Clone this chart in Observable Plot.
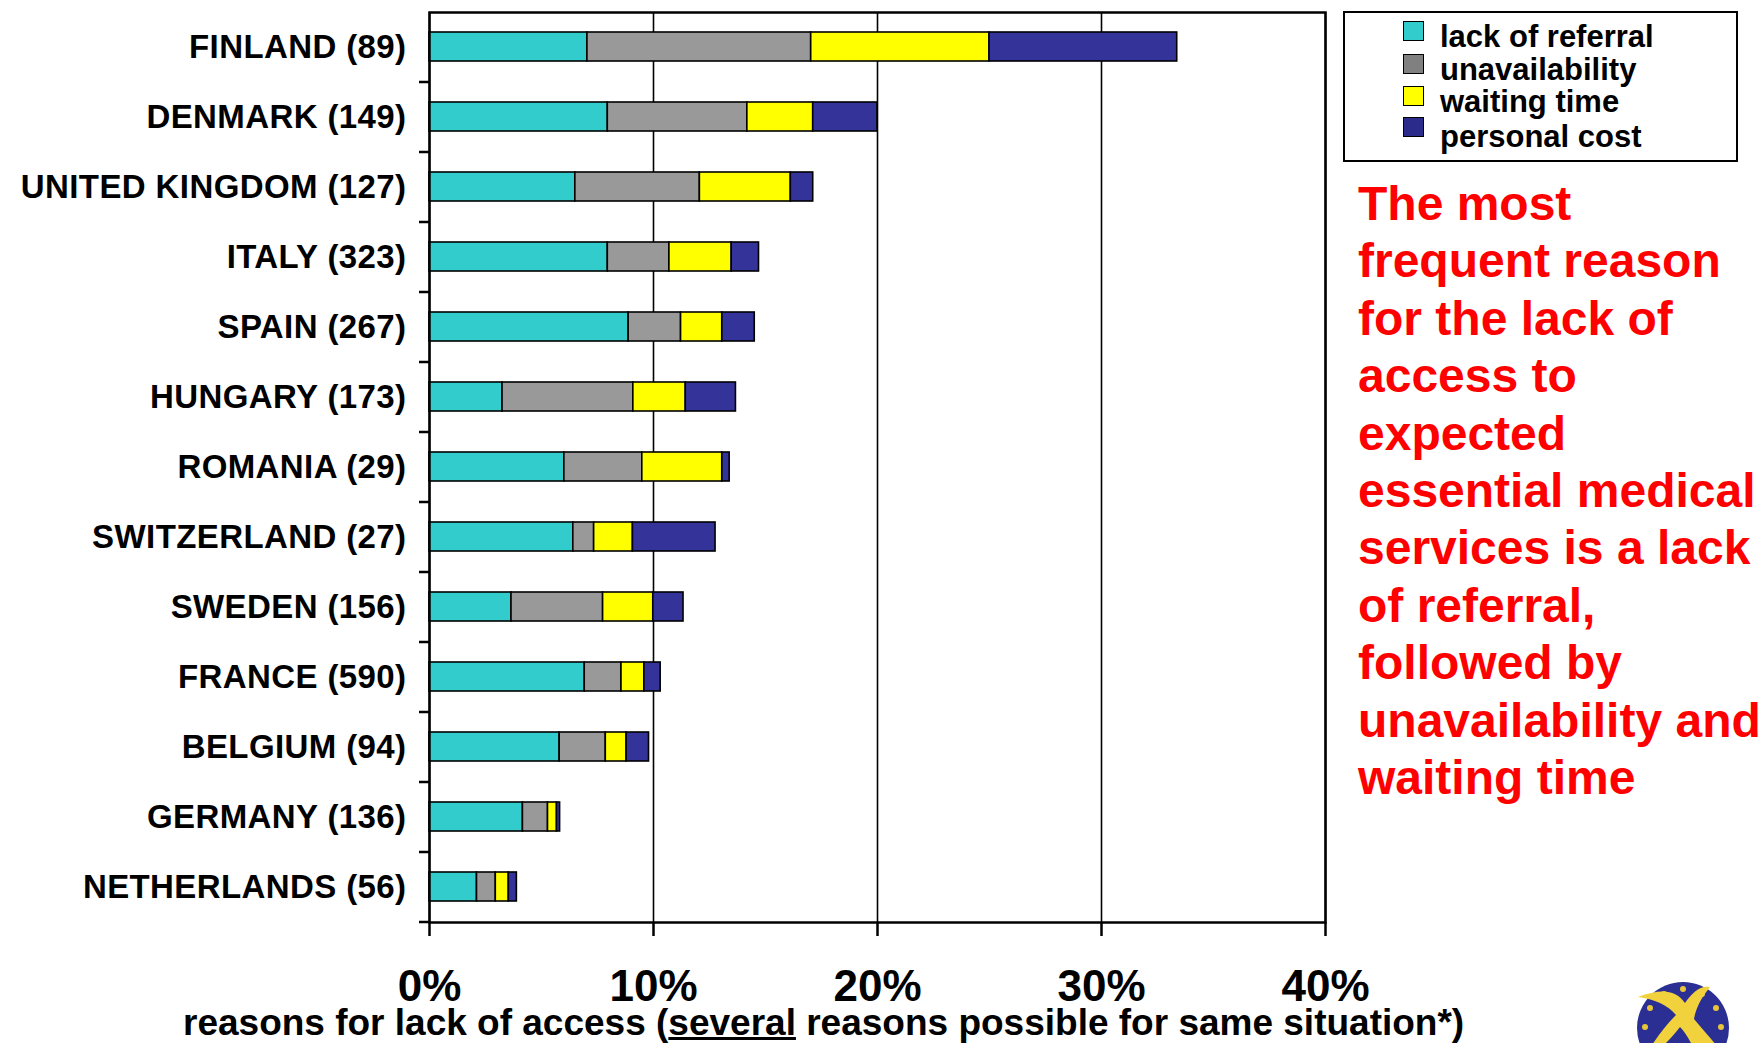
<!DOCTYPE html>
<html>
<head>
<meta charset="utf-8">
<script src="https://cdn.jsdelivr.net/npm/d3@7"></script>
<script src="https://cdn.jsdelivr.net/npm/@observablehq/plot@0.6"></script>
<style>
  html, body { margin: 0; padding: 0; background: #fff; }
  #wrap { position: relative; width: 1761px; height: 1043px; overflow: hidden; font-family: "Liberation Sans", Arial, sans-serif; font-weight: bold; }
  #chart { position: absolute; left: 0; top: 0; }
  #legend { position: absolute; left: 1343px; top: 11px; width: 391px; height: 147px; border: 2px solid #000; background: #fff; }
  .sw { position: absolute; left: 58px; width: 19px; height: 18px; border: 1.5px solid #000; }
  .lab { position: absolute; left: 95px; font-size: 31px; line-height: 31px; white-space: nowrap; color: #000; }
  #note { position: absolute; left: 1358px; top: 175px; font-size: 48px; line-height: 57.4px; color: #ff0000; white-space: nowrap; }
  #xtitle { position: absolute; left: 183px; top: 1004px; font-size: 37px; line-height: 37px; white-space: nowrap; color: #000; }
  #logo { position: absolute; left: 1630px; top: 975px; }
  #chart svg g[aria-label="y-axis tick label"] text { letter-spacing: 0.4px; }
</style>
</head>
<body>
<div id="wrap">
  <div id="chart"></div>
  <div id="legend"></div>
  <div id="note"></div>
  <div id="xtitle"></div>
  <svg id="logo" width="110" height="70" viewBox="0 0 110 70">
    <circle cx="53" cy="53" r="46" fill="#2b2f93"/>
    <g fill="#e8c43a">
      <circle cx="53" cy="14" r="3"/><circle cx="72" cy="19" r="3"/><circle cx="86" cy="33" r="3"/>
      <circle cx="91" cy="52" r="3"/><circle cx="34" cy="19" r="3"/><circle cx="20" cy="33" r="3"/>
      <circle cx="15" cy="52" r="3"/>
    </g>
    <path d="M8 22 C30 14 45 14 55 28 C62 18 70 10 80 12 C72 22 66 32 64 44 C72 54 80 62 86 70 L62 70 C58 62 54 56 50 52 C44 60 38 66 34 70 L22 70 C30 58 38 48 46 40 C38 30 24 24 8 22 Z" fill="#f2d23c"/>
  </svg>
</div>
<script>
// ---- data ----
const countries = [
  "FINLAND (89)", "DENMARK (149)", "UNITED KINGDOM (127)", "ITALY (323)",
  "SPAIN (267)", "HUNGARY (173)", "ROMANIA (29)", "SWITZERLAND (27)",
  "SWEDEN (156)", "FRANCE (590)", "BELGIUM (94)", "GERMANY (136)", "NETHERLANDS (56)"
];
const reasons = ["lack of referral", "unavailability", "waiting time", "personal cost"];
const lackOfReferral = [7.05, 7.96, 6.51, 7.96, 8.89, 3.26, 6.02, 6.42, 3.66, 6.93, 5.81, 4.17, 2.12];
const unavailability = [9.99, 6.23, 5.56, 2.75, 2.34, 5.84, 3.48, 0.93, 4.09, 1.64, 2.06, 1.12, 0.84];
const waitingTime    = [7.96, 2.94, 4.06, 2.78, 1.84, 2.34, 3.57, 1.73, 2.24, 1.02, 0.93, 0.40, 0.58];
const personalCost   = [8.38, 2.87, 1.00, 1.22, 1.45, 2.24, 0.33, 3.69, 1.35, 0.73, 1.00, 0.14, 0.36];
const xTicks = [0, 10, 20, 30, 40];
const colors = ["#33cccc", "#999999", "#ffff00", "#333399"];
const legendColors = ["#33cccc", "#808080", "#ffff00", "#2b2b8c"];
const noteLines = [
  "The most", "frequent reason", "for the lack of", "access to", "expected",
  "essential medical", "services is a lack", "of referral,", "followed by",
  "unavailability and", "waiting time"
];
const xTitleBefore = "reasons for lack of access (";
const xTitleUnderlined = "several";
const xTitleAfter = " reasons possible for same situation*)";

// ---- table ----
const series = [lackOfReferral, unavailability, waitingTime, personalCost];
const data = countries.flatMap((c, i) => reasons.map((r, j) => ({country: c, reason: r, value: series[j][i]})));
const fmt = d => d + "%";

const chart = Plot.plot({
  width: 1761,
  height: 1043,
  marginLeft: 429,
  marginRight: 436,
  marginTop: 12,
  marginBottom: 121,
  style: {fontFamily: "'Liberation Sans', Arial, sans-serif", fontWeight: "bold", color: "#000", background: "transparent"},
  x: {domain: [0, 40], ticks: xTicks, tickFormat: fmt, label: null},
  y: {domain: countries, paddingInner: 0.58, paddingOuter: 0.29, label: null},
  color: {domain: reasons, range: colors},
  marks: [
    Plot.gridX(xTicks, {stroke: "#000", strokeOpacity: 1, strokeWidth: 1.6}),
    Plot.barX(data, Plot.stackX({x: "value", y: "country", fill: "reason", stroke: "#000", strokeWidth: 1.6})),
    Plot.frame({stroke: "#000", strokeWidth: 2.5}),
    Plot.axisY({tickSize: 0, tickPadding: 23, fontSize: 33, fontWeight: "bold", label: null}),
    Plot.axisY({tickSize: 10, dy: 35, text: null, strokeWidth: 2.5, label: null}),
    Plot.axisX(xTicks, {tickSize: 14, tickPadding: 33, tickFormat: fmt, fontSize: 44, fontWeight: "bold", strokeWidth: 2.5, label: null})
  ]
});
document.getElementById("chart").appendChild(chart);

// legend
const legend = d3.select("#legend");
const swatchTops = [8, 41, 73, 104];
const labelTops = [8, 41, 73, 108];
reasons.forEach((r, i) => {
  legend.append("div").attr("class", "sw").style("top", swatchTops[i] + "px").style("background", legendColors[i]);
  legend.append("div").attr("class", "lab").style("top", labelTops[i] + "px").text(r);
});

// note
const note = d3.select("#note");
noteLines.forEach((l, i) => { if (i) note.append("br"); note.append("span").text(l); });

// x title
const xt = d3.select("#xtitle");
xt.append("span").text(xTitleBefore);
xt.append("span").style("text-decoration", "underline").text(xTitleUnderlined);
xt.append("span").text(xTitleAfter);
</script>
</body>
</html>
